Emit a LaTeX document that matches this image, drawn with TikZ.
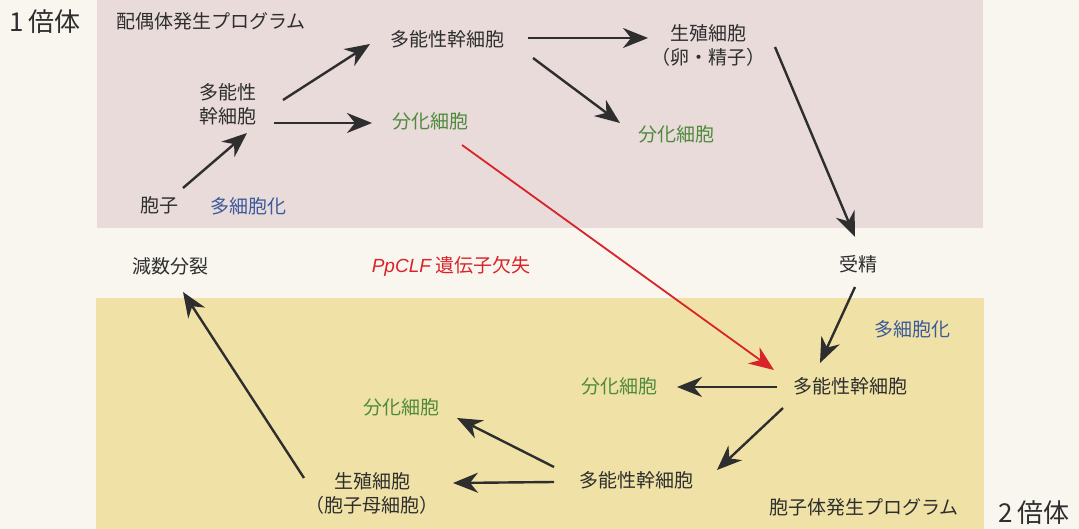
\documentclass[tikz,border=0pt]{standalone}
\usepackage{fontspec}
\setmainfont{Noto Sans CJK JP}
\newfontfamily\latinit{Liberation Sans}
\usetikzlibrary{arrows.meta,calc}
\definecolor{bgc}{HTML}{F8F6EE}
\definecolor{pinkc}{HTML}{E8DBDA}
\definecolor{yelc}{HTML}{F0E2A6}
\definecolor{txt}{HTML}{2E2E2E}
\definecolor{greenc}{HTML}{4F8A3C}
\definecolor{bluec}{HTML}{3B5A9A}
\definecolor{redc}{HTML}{D9232A}
\tikzset{
  lbl/.style={font=\fontsize{19}{24}\selectfont, text=txt, inner sep=0pt, align=center},
  grn/.style={lbl, text=greenc},
  blu/.style={lbl, text=bluec},
  big/.style={font=\fontsize{26}{30}\selectfont, text=txt, inner sep=0pt},
  arr/.style={draw=txt, line width=2.4pt, -{Stealth[length=25pt,width=20pt,inset=8pt]}},
  redarr/.style={draw=redc, line width=1.8pt, -{Stealth[length=25pt,width=20pt,inset=8pt]}}
}
\begin{document}
\begin{tikzpicture}[x=1pt,y=-1pt]
\useasboundingbox (0,0) rectangle (1079,529);
\fill[bgc] (0,0) rectangle (1079,529);
\fill[pinkc] (97,0) rectangle (983,228);
\fill[yelc] (96,298) rectangle (984,529);

\node[big] (hap) at (45,22) {1\hspace{5pt}倍体};
\node[lbl] (gprog) at (211,21) {配偶体発生プログラム};
\node[lbl] (msc1) at (228,104) {多能性\\幹細胞};
\node[lbl] (msc2) at (447,39) {多能性幹細胞};
\node[lbl] (germ1) at (708,45) {生殖細胞\\（卵・精子）};
\node[grn] (diff1) at (430,121) {分化細胞};
\node[grn] (diff2) at (676,134) {分化細胞};
\node[lbl] (spore) at (159,205) {胞子};
\node[blu] (multi1) at (248,206) {多細胞化};
\node[lbl] (meio) at (170,266) {減数分裂};
\node[lbl, text=redc] (ppclf) at (451,266) {{\latinit\itshape PpCLF} 遺伝子欠失};
\node[lbl] (fert) at (858,264) {受精};
\node[blu] (multi2) at (912,329) {多細胞化};
\node[lbl] (msc3) at (850,386) {多能性幹細胞};
\node[grn] (diff3) at (619,386) {分化細胞};
\node[grn] (diff4) at (401,407) {分化細胞};
\node[lbl] (msc4) at (636,480) {多能性幹細胞};
\node[lbl] (germ2) at (372,493) {生殖細胞\\（胞子母細胞）};
\node[lbl] (sprog) at (864,507) {胞子体発生プログラム};
\node[big] (dip) at (1034,513) {2\hspace{5pt}倍体};

\draw[arr] ($(spore)+(24,-17)$) -- ($(msc1)+(19,29)$);
\draw[arr] ($(msc1)+(55,-4)$) -- ($(msc2)+(-77,5)$);
\draw[arr] ($(msc1)+(46,19)$) -- ($(diff1)+(-58,2)$);
\draw[arr] ($(msc2)+(81,-1)$) -- ($(germ1)+(-60,-7)$);
\draw[arr] ($(msc2)+(86,19)$) -- ($(diff2)+(-56,-11)$);
\draw[arr] ($(germ1)+(67,2)$) -- ($(fert)+(-3,-27)$);
\draw[redarr] ($(diff1)+(32,24)$) -- ($(msc3)+(-76,-16)$);
\draw[arr] ($(fert)+(-3,23)$) -- ($(msc3)+(-30,-23)$);
\draw[arr] ($(msc3)+(-73,1)$) -- ($(diff3)+(58,1)$);
\draw[arr] ($(msc3)+(-67,22)$) -- ($(msc4)+(81,-10)$);
\draw[arr] ($(msc4)+(-82,-13)$) -- ($(diff4)+(56,11)$);
\draw[arr] ($(msc4)+(-82,2)$) -- ($(germ2)+(81,-10)$);
\draw[arr] ($(germ2)+(-68,-15)$) -- ($(meio)+(13,26)$);
\end{tikzpicture}
\end{document}
